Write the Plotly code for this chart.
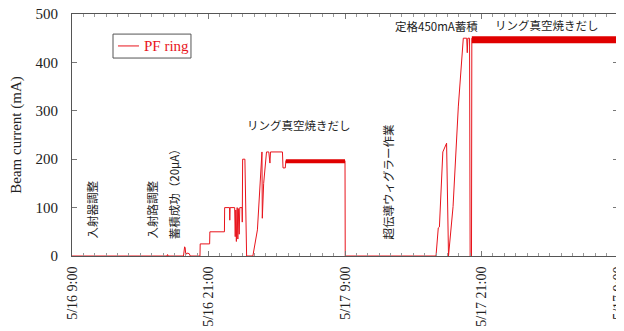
import plotly.graph_objects as go

# hours since 5/16 9:00
hours = [0, 8.35, 8.4, 8.45, 9.8, 9.9, 9.95, 10.0, 10.1, 10.3, 10.4,
         11.25, 11.27, 12.1, 12.12, 13.4, 13.42, 13.85, 13.87, 13.9, 14.3,
         14.35, 14.4, 14.45, 14.52, 14.58, 14.62, 14.7, 14.75, 14.95, 14.97,
         15.0, 15.2, 15.25, 15.35, 15.9, 16.3, 16.7, 16.73, 16.85, 17.1,
         17.3, 17.4, 17.45, 18.5, 18.55, 18.75, 18.8, 24.0, 24.02,
         32.0, 32.2, 32.3, 32.6, 32.85, 32.93, 33.1, 33.5, 33.96, 34.0,
         34.26, 34.4, 34.7, 34.75, 34.8, 34.95, 35.0, 35.12, 35.15, 48.0]
current = [0, 0, 3, 0, 0, 19, 17, 3, 6, 5, 0,
           0, 25, 25, 50, 50, 100, 100, 74, 100, 100,
           40, 95, 30, 100, 35, 98, 45, 100, 100, 70,
           200, 200, 150, 0, 0, 54, 215, 78, 150, 215,
           215, 192, 215, 215, 182, 182, 197, 197, 0,
           0, 58, 60, 215, 228, 233, 0, 102, 308, 320,
           412, 450, 450, 420, 450, 450, 0, 0, 450, 447]

# thick noisy plateaus (start hour, end hour, level mA)
band_hours = [[18.8, 24.0], [35.15, 48.0]]
band_level = [196, 447]
band_width = [4, 7]

series_name = "PF ring"

tick_vals = [0, 12, 24, 36, 48]
tick_text = ["5/16 9:00", "5/16 21:00", "5/17 9:00", "5/17 21:00", "5/17 9:00"]

notes = [
    ("入射器調整", 1.76, 96, -90),
    ("入射路調整", 7.03, 96, -90),
    ("蓄積成功（20μA）", 8.97, 134, -90),
    ("リング真空焼きだし", 19.96, 271, 0),
    ("超伝導ウィグラー作業", 27.78, 152, -90),
    ("定格450mA蓄積", 32.04, 475, 0),
    ("リング真空焼きだし", 41.76, 477, 0),
]

RED = "#e8141c"
SERIF = "Liberation Serif"
JP = "Noto Sans CJK JP"

fig = go.Figure()
fig.add_trace(go.Scatter(x=hours, y=current, mode="lines", name=series_name,
                         showlegend=False, line=dict(color=RED, width=1)))
for hh, lv, w in zip(band_hours, band_level, band_width):
    fig.add_trace(go.Scatter(x=hh, y=[lv, lv], mode="lines", showlegend=False,
                             line=dict(color="#e00000", width=w), hoverinfo="skip"))

for txt, x, y, ang in notes:
    fig.add_annotation(text=txt, x=x, y=y, xref="x", yref="y", showarrow=False,
                       textangle=ang, font=dict(family=JP, size=11.5, color="#222"),
                       xanchor="center", yanchor="middle")

# compact boxed legend (drawn in paper coordinates)
fig.add_shape(type="rect", xref="paper", yref="paper", x0=0.0751, x1=0.2179,
              y0=0.818, y1=0.917, line=dict(color="#555", width=1),
              fillcolor="white", layer="above")
fig.add_shape(type="line", xref="paper", yref="paper", x0=0.0842, x1=0.1227,
              y0=0.868, y1=0.868, line=dict(color=RED, width=1), layer="above")
fig.add_annotation(text=series_name, xref="paper", yref="paper", x=0.1277, y=0.868,
                   xanchor="left", yanchor="middle", showarrow=False,
                   font=dict(family=SERIF, size=15, color=RED))

# page has an 8px body margin, so the figure is 8px smaller than the window
fig.update_layout(
    width=616, height=323,
    margin=dict(l=64, r=6, t=6, b=75, autoexpand=False),
    paper_bgcolor="white", plot_bgcolor="white",
    font=dict(family=SERIF, size=15, color="#222"),
    showlegend=False,
)
fig.update_xaxes(range=[0, 48], tickvals=tick_vals, ticktext=tick_text,
                 tickangle=-90, showline=True, linecolor="#555", linewidth=1,
                 mirror="ticks", ticks="inside", ticklen=5, tickcolor="#777",
                 showgrid=False, zeroline=False, ticklabeloverflow="allow",
                 automargin=False, ticklabelstandoff=4,
                 minor=dict(dtick=1, ticks="inside", ticklen=3, tickcolor="#999"),
                 tickfont=dict(family=SERIF, size=14))
fig.update_yaxes(range=[0, 500], dtick=100, showline=True, linecolor="#555",
                 linewidth=1, mirror="ticks", ticks="inside", ticklen=5,
                 tickcolor="#777", showgrid=False, zeroline=False,
                 ticklabelstandoff=10, automargin=False, ticklabeloverflow="allow",
                 title=dict(text="Beam current (mA)", standoff=22,
                            font=dict(family=SERIF, size=15)),
                 tickfont=dict(family=SERIF, size=15))

fig.write_html("out.html")
